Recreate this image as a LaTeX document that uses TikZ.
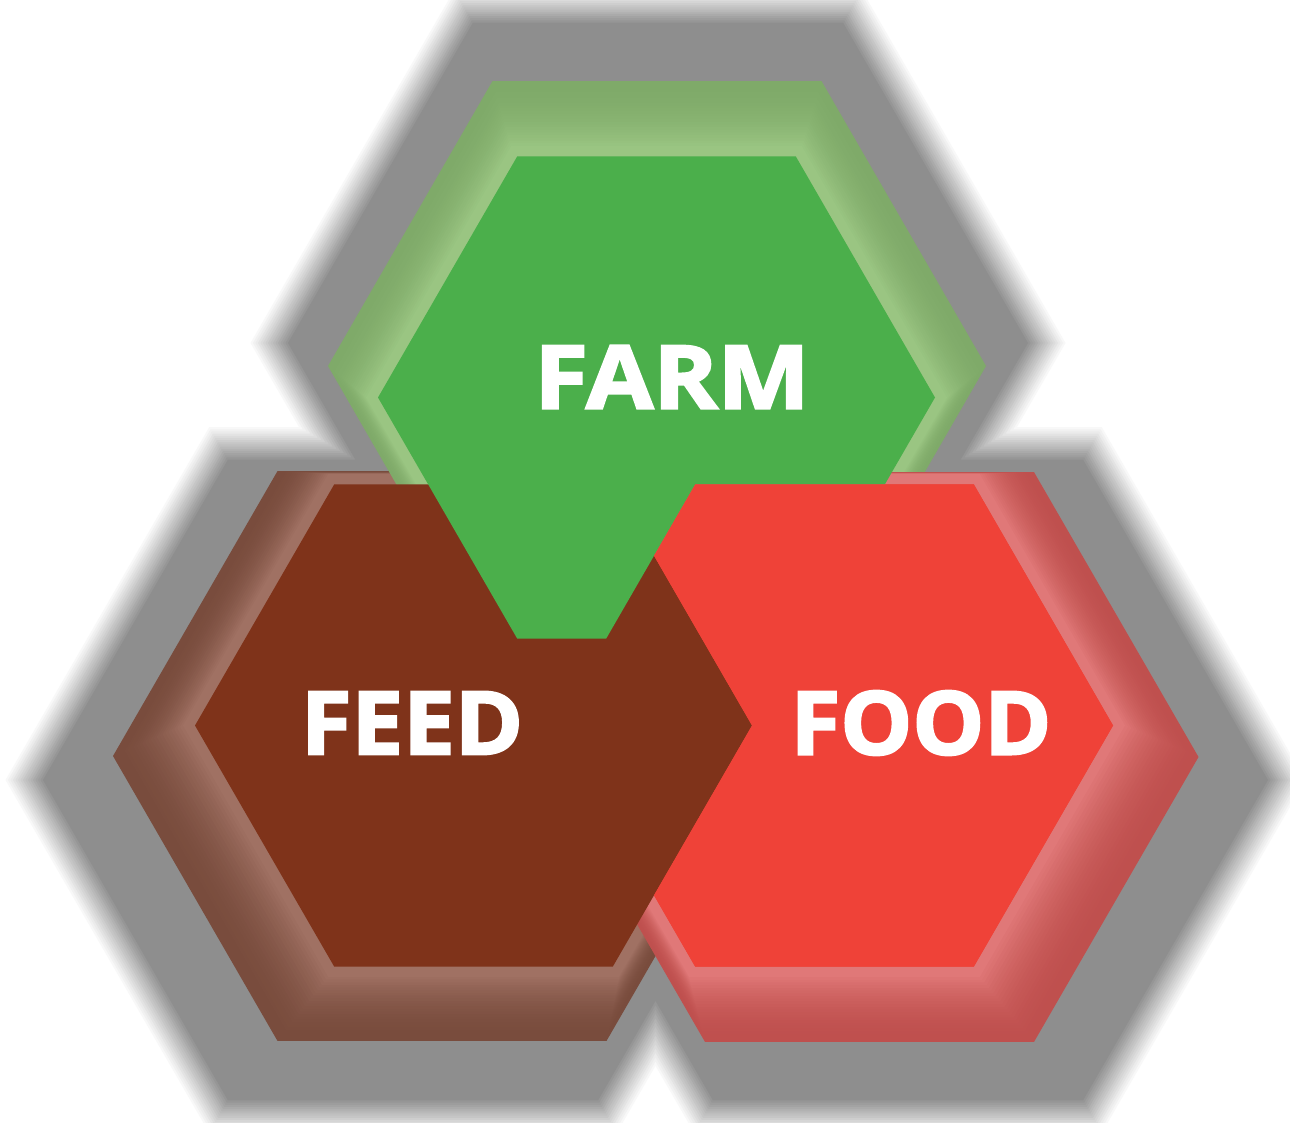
\documentclass[tikz,border=0pt]{standalone}
\usepackage{fontspec}
\setmainfont{Open Sans}[BoldFeatures={FakeBold=2.5}]

\definecolor{farmgreen}{HTML}{4BAF4B}
\definecolor{feedbrown}{HTML}{7F331A}
\definecolor{foodred}{HTML}{EF4238}
\definecolor{farmrim}{HTML}{7FAA69}
\definecolor{farmrimlight}{HTML}{9AC582}
\definecolor{feedrim}{HTML}{794C3D}
\definecolor{feedrimlight}{HTML}{A07163}
\definecolor{foodrim}{HTML}{BF504E}
\definecolor{foodrimlight}{HTML}{E07878}
\definecolor{shadowgray}{HTML}{8E8E8E}

% flat-topped hexagon: centre x, centre y, radius (pixel units)
\newcommand{\hexpath}[3]{(#1+#3,#2) -- (#1+0.5*#3,#2+0.866*#3) -- (#1-0.5*#3,#2+0.866*#3) -- (#1-#3,#2) -- (#1-0.5*#3,#2-0.866*#3) -- (#1+0.5*#3,#2-0.866*#3) -- cycle}

\tikzset{
  hexlabel/.style={text=white,font=\fontsize{50pt}{50pt}\selectfont\bfseries,inner sep=0,anchor=center,transform shape}
}

\begin{document}
\begin{tikzpicture}[x=0.02cm,y=-0.02cm]
    \pgfmathsetmacro{\hexradius}{278.5}
    \pgfmathsetmacro{\rimradius}{329}
    \useasboundingbox (0,0) rectangle (1290,1122);
    % blurred grey shadows, drawn level by level
    \foreach \k in {0,...,16}{
        \pgfmathsetmacro{\rr}{410-2.5*\k}
        \pgfmathtruncatemacro{\pp}{100*\k/16}
        \fill[shadowgray!\pp!white] \hexpath{658}{343}{\rr} \hexpath{413}{780}{\rr} \hexpath{898}{780}{\rr};
    }
    % rims, lighter towards the solid hexagon
    \foreach \cx/\cy/\fx/\fy/\dark/\light in {473.5/725.5/442/756/feedrim/feedrimlight,
                                             656.5/397.5/657/366/farmrim/farmrimlight,
                                             834.5/725.5/869.5/757/foodrim/foodrimlight}{
        \foreach \k in {0,...,24}{
            \pgfmathsetmacro{\lev}{\k/24}
            \pgfmathsetmacro{\rx}{\fx+(\cx-\fx)*\lev}
            \pgfmathsetmacro{\ry}{\fy+(\cy-\fy)*\lev}
            \pgfmathsetmacro{\rr}{\rimradius+(\hexradius+12-\rimradius)*\lev}
            \pgfmathtruncatemacro{\pp}{100*\lev*\lev}
            \fill[\light!\pp!\dark] \hexpath{\rx}{\ry}{\rr};
        }
    }
    % solid hexagons: feed over food, food over farm, farm over feed
    \fill[foodred] \hexpath{834.5}{725.5}{\hexradius};
    \fill[feedbrown] \hexpath{473.5}{725.5}{\hexradius};
    \begin{scope}[even odd rule]
        \clip (0,0) rectangle (1290,1122) \hexpath{834.5}{725.5}{\hexradius};
        \fill[farmgreen] \hexpath{656.5}{397.5}{\hexradius};
    \end{scope}
    \begin{scope}[even odd rule]
        \clip (0,0) rectangle (1290,1122) \hexpath{473.5}{725.5}{\hexradius};
        \fill[foodred] \hexpath{834.5}{725.5}{\hexradius};
    \end{scope}
    \node[hexlabel,xscale=1.11] (farm) at (672,377) {FARM};
    \node[hexlabel,xscale=1.05] (feed) at (412,723) {FEED};
    \node[hexlabel,xscale=1.03] (food) at (921,723) {FOOD};
\end{tikzpicture}
\end{document}
